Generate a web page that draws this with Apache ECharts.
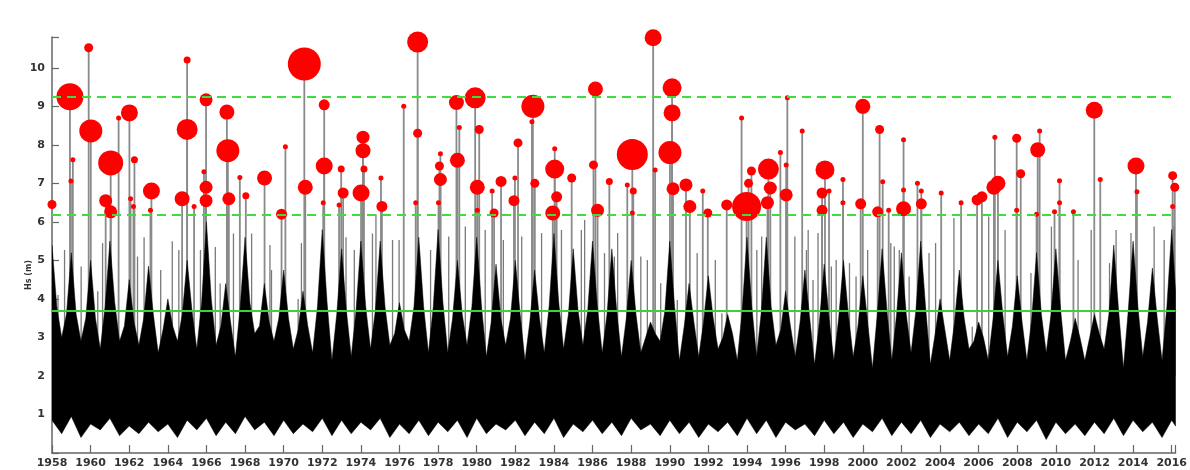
<!DOCTYPE html>
<html><head><meta charset="utf-8">
<script src="https://cdn.jsdelivr.net/npm/echarts@6/dist/echarts.min.js"></script>
<style>html,body{margin:0;padding:0;background:#fff}#c{width:1190px;height:470px}</style>
</head><body><div id="c"></div>
<script>
// ---- tick labels ----
const xTickLabels = [1958,1960,1962,1964,1966,1968,1970,1972,1974,1976,1978,1980,1982,1984,1986,1988,1990,1992,1994,1996,1998,2000,2002,2004,2006,2008,2010,2012,2014,2016];
const yTickLabels = [1,2,3,4,5,6,7,8,9,10];
const yAxisTitle = 'Hs (m)';

// ---- threshold levels (m) ----
const upperThreshold = 9.25;
const stormThreshold = 6.18;
const baseThreshold = 3.69;

// ---- dense Hs record: upper envelope, winter maxima ----
const winterYear = [1958,1959,1960,1961,1962,1963,1964,1965,1966,1967,1968,1969,1970,1971,1972,1973,1974,1975,1976,1977,
1978,1979,1980,1981,1982,1983,1984,1985,1986,1987,1988,1989,1990,1991,1992,1993,1994,1995,1996,1997,
1998,1999,2000,2001,2002,2003,2004,2005,2006,2007,2008,2009,2010,2011,2012,2013,2014,2015,2016];
const winterHs = [5.4,5.2,5.0,5.5,4.5,4.85,4.0,5.0,6.0,4.4, 5.6,4.4,4.75,4.2,5.8,5.3,5.5,5.5,3.9,5.6,
5.8,5.0,5.6,4.9,5.0,4.75,5.7,5.3,5.5,5.3, 5.0,3.4,5.5,4.4,4.6,3.6,5.6,5.6,4.2,4.75,
4.9,5.0,4.6,5.3,5.2,5.5,4.0,4.75,3.4,5.0, 4.6,5.2,5.3,3.5,3.6,5.4,5.5,4.8,5.8];
// ---- upper envelope, summer minima ----
const summerYear = [1958.5,1959.5,1960.5,1961.5,1962.5,1963.5,1964.5,1965.5,1966.5,1967.5,1968.5,1969.5,1970.5,1971.5,1972.5,1973.5,1974.5,1975.5,1976.5,1977.5,
1978.5,1979.5,1980.5,1981.5,1982.5,1983.5,1984.5,1985.5,1986.5,1987.5,1988.5,1989.5,1990.5,1991.5,1992.5,1993.5,1994.5,1995.5,1996.5,1997.5,
1998.5,1999.5,2000.5,2001.5,2002.5,2003.5,2004.5,2005.5,2006.5,2007.5,2008.5,2009.5,2010.5,2011.5,2012.5,2013.5,2014.5,2015.5,2016.2];
const summerHs = [3.0,2.9,2.7,2.9,2.8,2.6,2.9,2.7,2.8,2.5, 3.1,2.9,2.7,2.6,2.4,2.5,2.7,2.8,2.9,2.6,
2.6,2.8,2.5,2.8,2.4,2.6,2.7,2.8,2.6,2.5, 2.6,2.9,2.4,2.5,2.7,2.4,2.5,2.8,2.5,2.3,
2.4,2.5,2.2,2.4,2.6,2.3,2.4,2.7,2.4,2.5, 2.4,2.6,2.4,2.4,2.7,2.2,2.5,2.4,4.2];
// ---- upper envelope, autumn / spring shoulders ----
const shoulderYear = [1958.25,1958.75,1959.25,1959.75,1960.25,1960.75,1961.25,1961.75,1962.25,1962.75,1963.25,1963.75,1964.25,1964.75,1965.25,1965.75,1966.25,1966.75,1967.25,1967.75,
1968.25,1968.75,1969.25,1969.75,1970.25,1970.75,1971.25,1971.75,1972.25,1972.75,1973.25,1973.75,1974.25,1974.75,1975.25,1975.75,1976.25,1976.75,1977.25,1977.75,
1978.25,1978.75,1979.25,1979.75,1980.25,1980.75,1981.25,1981.75,1982.25,1982.75,1983.25,1983.75,1984.25,1984.75,1985.25,1985.75,1986.25,1986.75,1987.25,1987.75,
1988.25,1988.75,1989.25,1989.75,1990.25,1990.75,1991.25,1991.75,1992.25,1992.75,1993.25,1993.75,1994.25,1994.75,1995.25,1995.75,1996.25,1996.75,1997.25,1997.75,
1998.25,1998.75,1999.25,1999.75,2000.25,2000.75,2001.25,2001.75,2002.25,2002.75,2003.25,2003.75,2004.25,2004.75,2005.25,2005.75,2006.25,2006.75,2007.25,2007.75,
2008.25,2008.75,2009.25,2009.75,2010.25,2010.75,2011.25,2011.75,2012.25,2012.75,2013.25,2013.75,2014.25,2014.75,2015.25,2015.75];
const shoulderHs = [3.8,3.6,3.6,3.5,3.5,3.8,3.9,3.3,3.4,3.5,3.6,3.2,3.3,3.6,3.7,3.9,4.0,3.3,3.4,3.8,
3.9,3.3,3.4,3.5,3.5,3.2,3.3,3.8,3.9,3.6,3.7,3.7,3.8,3.7,3.8,3.1,3.2,3.8,3.8,3.8,
3.9,3.5,3.6,3.8,3.8,3.4,3.5,3.5,3.6,3.4,3.5,3.8,3.9,3.6,3.7,3.7,3.8,3.6,3.7,3.5,
3.6,3.0,3.1,3.7,3.8,3.3,3.4,3.4,3.5,3.0,3.1,3.7,3.8,3.7,3.8,3.2,3.3,3.4,3.5,3.4,
3.5,3.5,3.6,3.3,3.4,3.6,3.7,3.6,3.6,3.7,3.8,3.1,3.2,3.4,3.5,2.9,3.0,3.5,3.6,3.3,
3.4,3.5,3.6,3.6,3.7,2.9,3.0,3.0,3.1,3.6,3.7,3.7,3.8,3.4,3.5,3.8];
// ---- lower envelope of the dense record ----
const floorYear = [1958.0,1958.5,1959.0,1959.5,1960.0,1960.5,1961.0,1961.5,1962.0,1962.5,1963.0,1963.5,1964.0,1964.5,1965.0,1965.5,1966.0,1966.5,1967.0,1967.5,
1968.0,1968.5,1969.0,1969.5,1970.0,1970.5,1971.0,1971.5,1972.0,1972.5,1973.0,1973.5,1974.0,1974.5,1975.0,1975.5,1976.0,1976.5,1977.0,1977.5,
1978.0,1978.5,1979.0,1979.5,1980.0,1980.5,1981.0,1981.5,1982.0,1982.5,1983.0,1983.5,1984.0,1984.5,1985.0,1985.5,1986.0,1986.5,1987.0,1987.5,
1988.0,1988.5,1989.0,1989.5,1990.0,1990.5,1991.0,1991.5,1992.0,1992.5,1993.0,1993.5,1994.0,1994.5,1995.0,1995.5,1996.0,1996.5,1997.0,1997.5,
1998.0,1998.5,1999.0,1999.5,2000.0,2000.5,2001.0,2001.5,2002.0,2002.5,2003.0,2003.5,2004.0,2004.5,2005.0,2005.5,2006.0,2006.5,2007.0,2007.5,
2008.0,2008.5,2009.0,2009.5,2010.0,2010.5,2011.0,2011.5,2012.0,2012.5,2013.0,2013.5,2014.0,2014.5,2015.0,2015.5,2016.0,2016.2];
const floorHs = [0.85,0.5,0.95,0.4,0.75,0.6,0.9,0.45,0.7,0.5,0.8,0.55,0.75,0.4,0.85,0.6,0.9,0.45,0.8,0.5,
0.95,0.6,0.8,0.45,0.85,0.5,0.75,0.55,0.9,0.45,0.85,0.5,0.8,0.6,0.9,0.4,0.75,0.5,0.85,0.45,
0.8,0.55,0.85,0.4,0.9,0.5,0.75,0.6,0.85,0.45,0.8,0.5,0.9,0.4,0.75,0.55,0.85,0.5,0.8,0.45,
0.9,0.6,0.75,0.45,0.85,0.5,0.8,0.4,0.75,0.55,0.8,0.45,0.9,0.5,0.85,0.4,0.8,0.6,0.75,0.45,
0.85,0.5,0.8,0.4,0.75,0.55,0.9,0.45,0.8,0.5,0.85,0.4,0.75,0.55,0.8,0.45,0.75,0.5,0.9,0.4,
0.8,0.55,0.85,0.35,0.8,0.5,0.75,0.45,0.8,0.5,0.9,0.45,0.85,0.55,0.8,0.4,0.85,0.7];

// ---- isolated Hs excursions (grey spikes above the dense record) ----
const spikeYear = [1958.31,1958.65,1959.51,1960.37,1960.62,1962.43,1962.77,1963.63,1964.23,1964.57,1965.69,1966.46,1966.71,1967.40,
1968.34,1969.29,1969.37,1970.75,1970.92,1973.23,1973.66,1974.60,1974.78,1975.64,1975.98,
1977.61,1978.55,1979.41,1980.44,1981.38,1982.33,1983.36,1984.39,1985.42,1985.59,1986.62,1987.13,
1987.30,1988.50,1988.84,1989.53,1990.39,1991.42,1992.36,1992.70,1994.51,1994.76,1996.48,1997.08,
1997.17,1997.42,1997.68,1998.37,1998.62,1999.31,1999.65,2000.25,2001.45,2001.63,2001.89,2002.40,2003.43,2003.77,2004.72,2004.98,2005.67,2006.52,
2007.37,2008.71,2009.77,2011.15,2011.83,2012.78,2013.12,2013.89,2015.09,2015.61,2016.12];
const spikeHs = [4.1,5.27,4.84,4.2,5.45,5.1,5.6,4.75,5.5,5.27,5.27,5.35,4.4,5.7,
5.7,5.4,4.75,4.0,5.45,5.6,5.27,5.7,6.2,5.53,5.53,
5.27,5.62,5.88,5.79,5.53,5.62,5.71,5.79,5.79,6.05,5.19,5.1,
5.71,5.1,5.01,4.41,3.97,5.19,5.01,3.63,5.27,5.62,5.62,5.27,
5.79,4.49,5.71,4.84,5.01,4.93,4.58,5.27,5.45,5.36,5.27,4.58,5.19,5.45,6.1,4.41,3.28,6.14,
5.79,4.67,5.88,5.01,5.79,4.93,5.79,5.71,5.88,5.53,5.88];

// ---- storm peaks: year, peak Hs (m), storm weight (relative duration index) ----
const stormYear = [1958.00,1958.93,1959.08,1958.98,1959.90,1960.01,1961.04,1960.78,1961.04,1961.45,1962.01,1962.27,1962.07,1962.22,1963.15,1963.10,1964.74,1965.36,1965.00,1965.00,
1965.98,1965.98,1965.98,1965.87,1967.06,1967.11,1967.16,1967.73,1968.04,1969.01,1969.89,1970.09,1971.07,1971.12,1972.10,1972.10,1972.05,1972.98,1973.08,1972.87,
1974.11,1974.11,1974.16,1974.01,1975.04,1975.09,1976.22,1976.84,1976.94,1976.94,1978.12,1978.07,1978.12,1978.02,1978.95,1979.10,1979.00,1979.92,1980.13,1980.03,
1980.03,1980.80,1981.26,1980.90,1982.14,1981.98,1981.93,1982.91,1982.86,1983.01,1984.04,1984.14,1983.94,1984.92,1984.04,1986.15,1986.05,1986.26,1986.87,1987.80,
1988.06,1988.11,1988.06,1989.14,1989.24,1990.12,1990.12,1990.01,1990.17,1990.84,1991.04,1991.71,1991.97,1992.95,1993.72,1993.98,1994.08,1994.23,1995.11,1995.21,
1995.06,1995.73,1996.09,1996.03,1996.03,1996.86,1998.04,1997.89,1998.25,1997.89,1998.97,1998.97,1999.89,2000.00,2000.87,2000.77,2001.03,2001.34,2002.11,2002.11,
2002.11,2002.83,2003.03,2003.03,2004.06,2005.09,2005.92,2006.17,2006.84,2006.79,2007.00,2007.97,2008.18,2007.97,2009.16,2009.06,2009.00,2010.19,2010.19,2009.93,
2010.91,2011.99,2012.30,2014.15,2014.20,2016.05,2016.16,2016.05];
const stormHs = [6.45,9.25,7.61,7.06,10.52,8.36,7.53,6.55,6.26,8.70,8.83,7.61,6.60,6.40,6.80,6.30,6.60,6.40,10.20,8.40,
9.17,6.90,6.55,7.30,8.85,7.85,6.60,7.15,6.68,7.14,6.20,7.95,10.10,6.90,9.04,7.45,6.50,7.37,6.75,6.44,
8.20,7.85,7.37,6.75,7.14,6.40,9.00,6.50,10.67,8.30,7.77,7.45,7.10,6.50,9.10,8.45,7.60,9.22,8.40,6.90,
6.30,6.80,7.05,6.23,8.05,7.14,6.55,9.00,8.60,7.00,7.37,6.65,6.23,7.14,7.90,9.45,7.48,6.30,7.05,6.96,
7.75,6.80,6.23,10.78,7.35,9.48,8.83,7.80,6.86,6.96,6.40,6.80,6.23,6.44,8.70,6.40,7.00,7.32,7.37,6.88,
6.50,7.80,9.22,7.48,6.70,8.36,7.35,6.75,6.80,6.30,7.10,6.50,6.47,9.00,8.40,6.26,7.04,6.30,8.13,6.34,
6.83,7.00,6.80,6.47,6.75,6.50,6.57,6.65,8.20,6.90,7.00,8.17,7.25,6.30,8.36,7.87,6.20,7.07,6.50,6.26,
6.26,8.90,7.10,7.45,6.78,7.20,6.90,6.40];
const stormWeight = [4,13,2,2,4,11,12,6,6,2,8,3,2,2,8,2,7,2,3,10,
6,6,6,2,7,11,6,2,3,7,5,2,16,7,5,8,2,3,5,2,
6,7,3,8,2,5,2,2,10,4,2,4,6,2,7,2,7,10,4,7,
2,2,5,4,4,2,5,11,2,4,9,5,7,4,2,7,4,6,3,2,
15,3,2,8,2,9,8,11,6,6,6,2,4,5,2,14,4,4,10,6,
6,2,2,2,6,2,9,5,2,5,2,2,5,7,4,5,2,2,2,7,
2,2,2,5,2,2,5,5,2,7,7,4,4,2,2,7,2,2,2,2,
2,8,2,8,2,4,4,2];

const chart = echarts.init(document.getElementById('c'), null, {renderer: 'canvas'});
const FONT = '"DejaVu Sans", Verdana, sans-serif';

// upper envelope of the record, ordered in time
const upperEnv = []
  .concat(winterYear.map((y, i) => [y, winterHs[i]]))
  .concat(summerYear.map((y, i) => [y, summerHs[i]]))
  .concat(shoulderYear.map((y, i) => [y, shoulderHs[i]]))
  .sort((a, b) => a[0] - b[0]);
const lowerEnv = floorYear.map((y, i) => [y, floorHs[i]]);

const stormData = stormYear.map((y, i) => [y, stormHs[i], stormWeight[i]]);
const spikeData = spikeYear.map((y, i) => [y, spikeHs[i]]);

function vline(color, width, base) {
  return function (params, api) {
    const top = api.coord([api.value(0), api.value(1)]);
    const bot = api.coord([api.value(0), base]);
    return {type: 'line', shape: {x1: top[0], y1: top[1], x2: bot[0], y2: bot[1]},
      style: {stroke: color, lineWidth: width}};
  };
}

const option = {
  animation: false,
  backgroundColor: '#ffffff',
  grid: {left: 52, right: 7, top: 37, bottom: 17, containLabel: false},
  xAxis: {
    type: 'value', min: 1958, max: 2016.2, interval: 2,
    axisLine: {lineStyle: {color: '#666', width: 1.5}},
    axisTick: {inside: true, length: 8, lineStyle: {color: '#666', width: 1.2}},
    axisLabel: {fontFamily: FONT, fontWeight: 'bold', fontSize: 11, color: '#333', margin: 5,
      formatter: v => xTickLabels.includes(Math.round(v * 100) / 100) ? String(v) : ''},
    splitLine: {show: false}
  },
  yAxis: {
    type: 'value', min: 0, max: 10.8, interval: 1,
    axisLine: {show: true, lineStyle: {color: '#666', width: 1.5}},
    axisTick: {show: true, inside: true, length: 7, lineStyle: {color: '#666', width: 1.2}},
    axisLabel: {fontFamily: FONT, fontWeight: 'bold', fontSize: 11, color: '#333', margin: 7,
      formatter: v => yTickLabels.includes(Math.round(v * 100) / 100) ? String(v) : ''},
    splitLine: {show: false}
  },
  graphic: [{type: 'text', left: 25, top: 260, rotation: Math.PI / 2,
    style: {text: yAxisTitle, font: 'bold 8px ' + FONT, fill: '#333'}}],
  series: [
    {type: 'custom', name: 'stems', z: 1, silent: true, clip: true,
      data: stormData, renderItem: vline('#8a8a8a', 1.8, 2.0)},
    {type: 'custom', name: 'spikes', z: 1, silent: true, clip: true,
      data: spikeData, renderItem: vline('#7a7a7a', 1.3, 2.0)},
    {type: 'custom', name: 'Hs', z: 2, silent: true, clip: true,
      data: [upperEnv[0]],
      renderItem: function (params, api) {
        const pts = [];
        for (let i = 0; i < upperEnv.length; i++) pts.push(api.coord(upperEnv[i]));
        for (let i = lowerEnv.length - 1; i >= 0; i--) pts.push(api.coord(lowerEnv[i]));
        return {type: 'polygon', shape: {points: pts}, style: {fill: '#000', stroke: '#000', lineWidth: 0.5}};
      }},
    {type: 'line', name: 'thresholds', z: 3, data: [], silent: true,
      markLine: {silent: true, symbol: 'none', label: {show: false},
        data: [
          {yAxis: upperThreshold, lineStyle: {color: '#3fdc3f', width: 2, type: [9, 6]}},
          {yAxis: stormThreshold, lineStyle: {color: '#3fdc3f', width: 2, type: [9, 6]}},
          {yAxis: baseThreshold, lineStyle: {color: '#3ad23a', width: 2.2, type: 'solid'}}
        ]}},
    {type: 'scatter', name: 'storms', z: 4, silent: true,
      data: stormData,
      symbol: 'circle',
      symbolSize: v => v[2] * 2 + 1,
      itemStyle: {color: '#ff0000', opacity: 1}}
  ]
};
chart.setOption(option);
</script></body></html>
